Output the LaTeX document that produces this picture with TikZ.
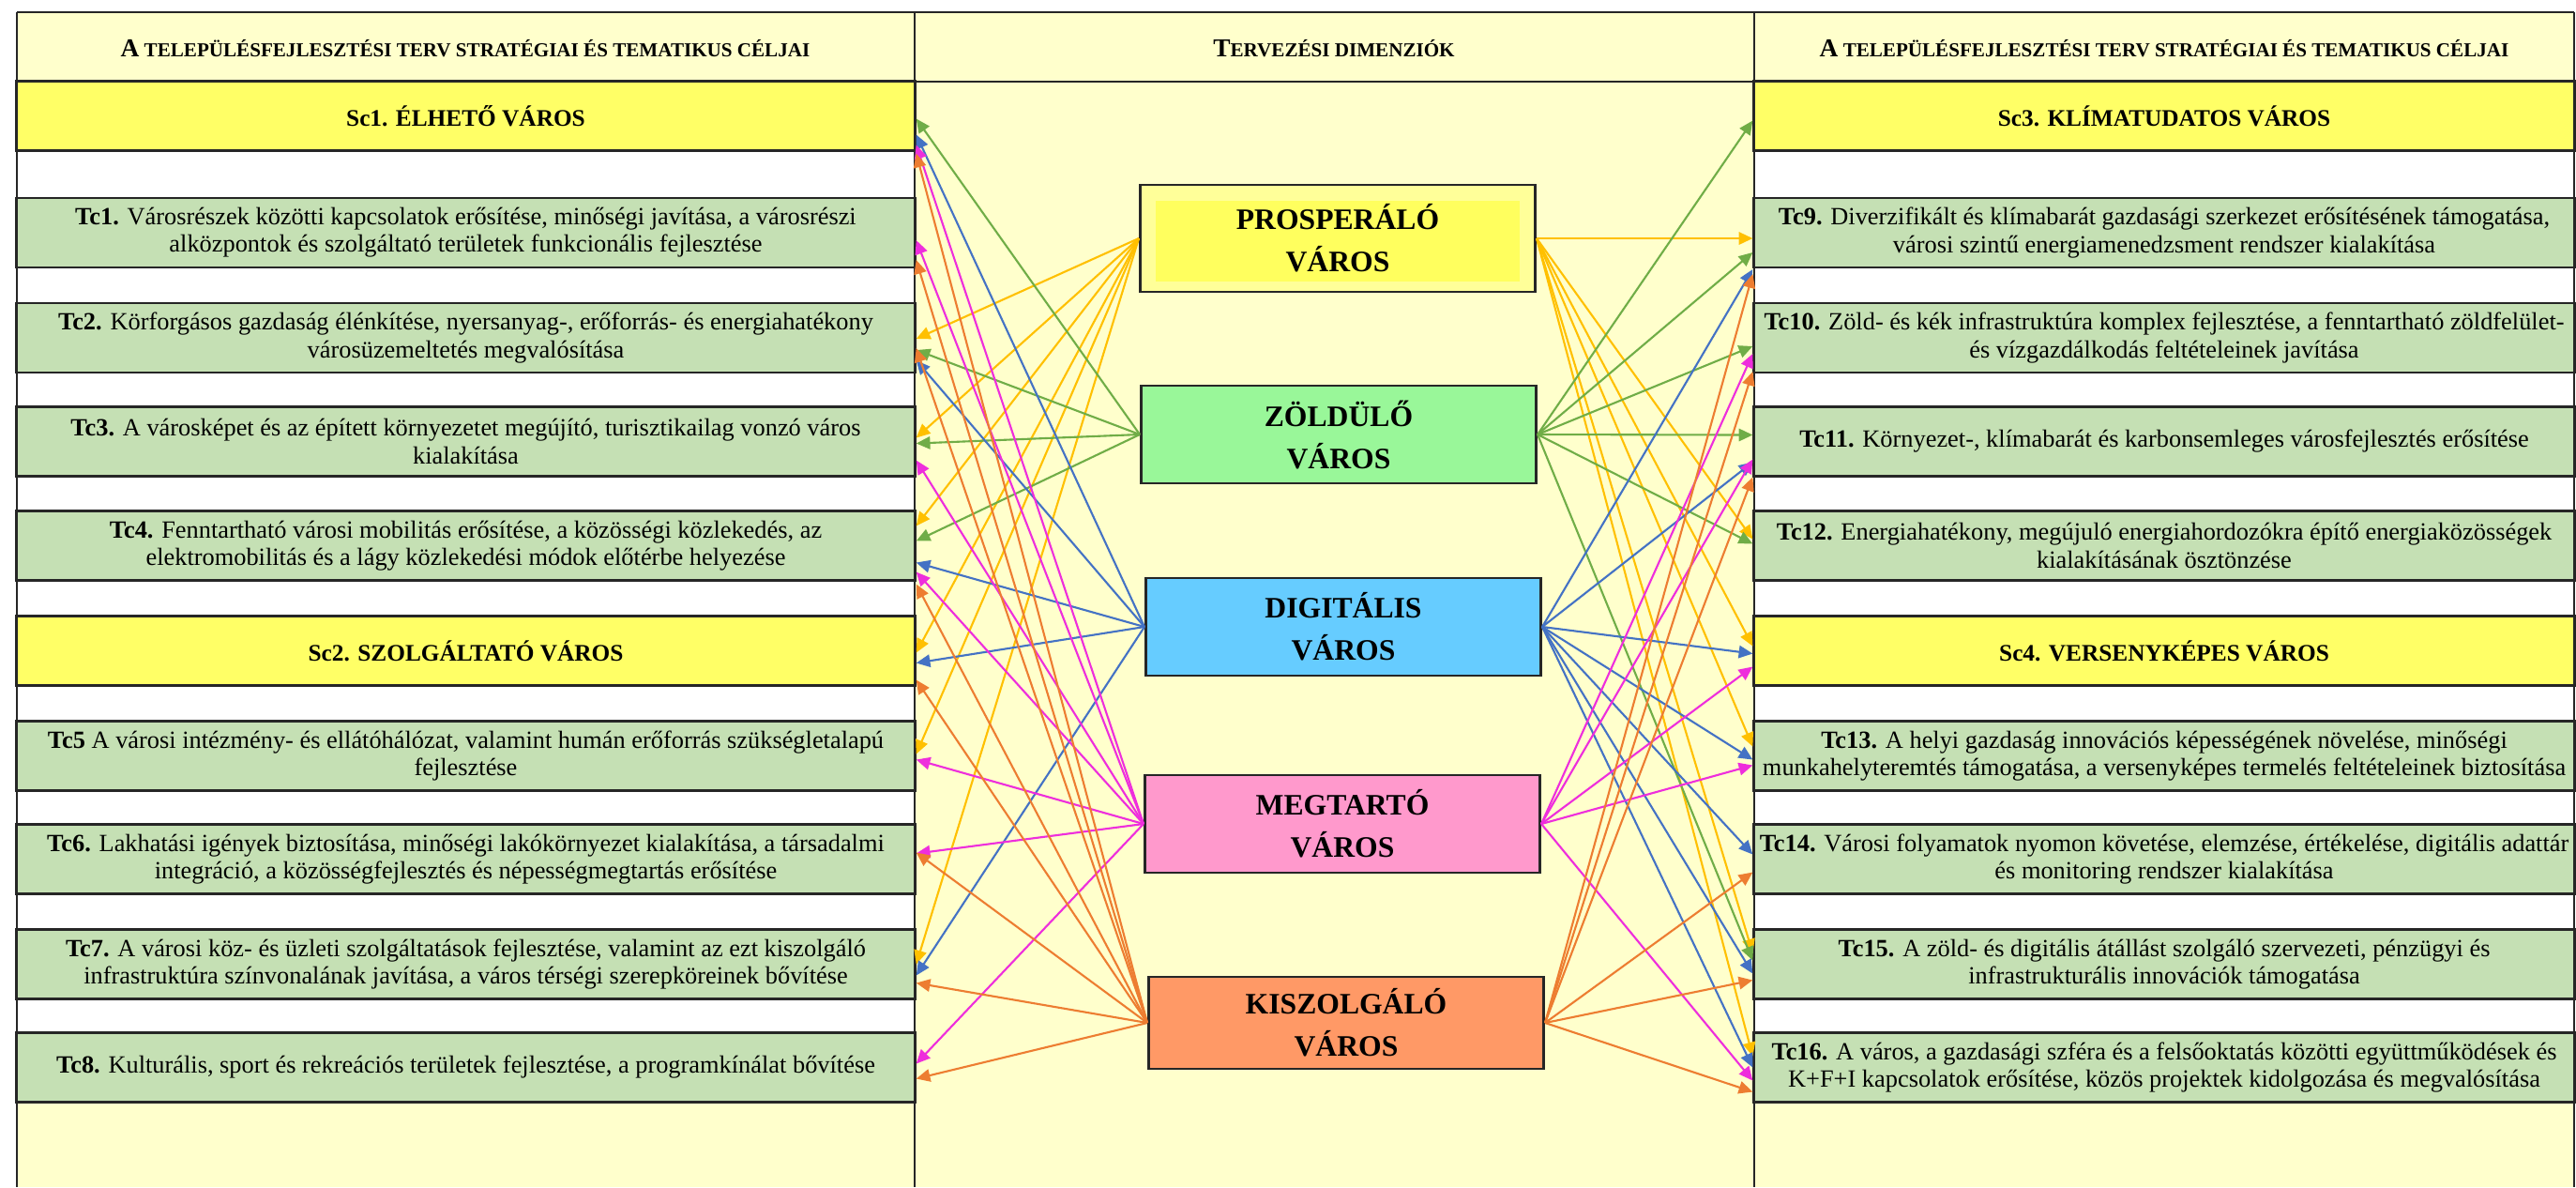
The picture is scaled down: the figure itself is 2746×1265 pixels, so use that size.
\documentclass[tikz,border=0pt]{standalone}
\usepackage{fontspec}
\setmainfont{Liberation Serif}
\usetikzlibrary{calc, arrows.meta}

\definecolor{paleyel}{HTML}{FFFFCC}
\definecolor{scyellow}{HTML}{FFFF66}
\definecolor{tcgreen}{HTML}{C5E0B4}
\definecolor{linecol}{HTML}{262626}
\definecolor{proouter}{HTML}{FFFF99}
\definecolor{proinner}{HTML}{FFFF5E}
\definecolor{zoldfill}{HTML}{99F799}
\definecolor{digfill}{HTML}{66CCFF}
\definecolor{megfill}{HTML}{FF99CC}
\definecolor{kiszfill}{HTML}{FF9966}
\definecolor{procol}{HTML}{FFC000}
\definecolor{zoldcol}{HTML}{70AD47}
\definecolor{digcol}{HTML}{4472C4}
\definecolor{megcol}{HTML}{EE2EDC}
\definecolor{kiszcol}{HTML}{ED7D31}

\newcommand\kiskap[2]{{\fontsize{7.8}{8.5}\selectfont #1}{\fontsize{6}{6.5}\selectfont #2}}

\begin{document}
\begin{tikzpicture}[x=0.01cm, y=-0.01cm,
  tabcell/.style={draw=linecol, line width=0.8pt, minimum height=0.74cm, inner sep=0pt, align=center},
  lcell/.style={tabcell, minimum width=9.57cm},
  rcell/.style={tabcell, minimum width=8.74cm},
  tcrow/.style={fill=tcgreen, font=\fontsize{7.5}{8.3}\selectfont},
  scrow/.style={fill=scyellow, font=\bfseries\fontsize{7.2}{8.5}\selectfont},
  headtxt/.style={font=\bfseries, inner sep=0pt},
  dimbox/.style={draw=linecol, line width=0.8pt, minimum width=4.21cm, minimum height=1.04cm, align=center, font=\bfseries\fontsize{9}{12.8}\selectfont},
  linkbase/.style={line width=0.6pt, -{Triangle[length=4.2pt,width=3.8pt]}},
  prolink/.style={linkbase, procol},
  zoldlink/.style={linkbase, zoldcol},
  diglink/.style={linkbase, digcol},
  meglink/.style={linkbase, megcol},
  kiszlink/.style={linkbase, kiszcol}]

\fill[white] (0,0) rectangle (2746,1265);
\useasboundingbox (0,0) rectangle (2746,1265);

% table background
\fill[paleyel] (18,13) rectangle (2744,1265);
\filldraw[fill=white, draw=linecol, line width=0.8pt] (18,160) rectangle (975,1175);
\filldraw[fill=white, draw=linecol, line width=0.8pt] (1870,160) rectangle (2744,1175);
\draw[linecol, line width=0.8pt] (18,13) -- (2744,13);
\draw[linecol, line width=0.8pt] (18,87) -- (2744,87);
\draw[linecol, line width=0.8pt] (18,13) -- (18,1265);
\draw[linecol, line width=0.8pt] (975,13) -- (975,1265);
\draw[linecol, line width=0.8pt] (1870,13) -- (1870,1265);
\draw[linecol, line width=0.8pt] (2744,13) -- (2744,1265);

% headers
\node[headtxt] (lhead) at (496,52) {\kiskap{A}{ TELEPÜLÉSFEJLESZTÉSI TERV STRATÉGIAI ÉS TEMATIKUS CÉLJAI}};
\node[headtxt] (mhead) at (1422,52) {\kiskap{T}{ERVEZÉSI DIMENZIÓK}};
\node[headtxt] (rhead) at (2307,52) {\kiskap{A}{ TELEPÜLÉSFEJLESZTÉSI TERV STRATÉGIAI ÉS TEMATIKUS CÉLJAI}};

% left column
\node[lcell, scrow] (sc1) at (496.5,123.5) {Sc1. ÉLHETŐ VÁROS};
\node[lcell, tcrow] (tc1) at (496.5,248) {\textbf{Tc1.} Városrészek közötti kapcsolatok erősítése, minőségi javítása, a városrészi\\alközpontok és szolgáltató területek funkcionális fejlesztése};
\node[lcell, tcrow] (tc2) at (496.5,360) {\textbf{Tc2.} Körforgásos gazdaság élénkítése, nyersanyag-, erőforrás- és energiahatékony\\városüzemeltetés megvalósítása};
\node[lcell, tcrow] (tc3) at (496.5,470.5) {\textbf{Tc3.} A városképet és az épített környezetet megújító, turisztikailag vonzó város\\kialakítása};
\node[lcell, tcrow] (tc4) at (496.5,581.5) {\textbf{Tc4.} Fenntartható városi mobilitás erősítése, a közösségi közlekedés, az\\elektromobilitás és a lágy közlekedési módok előtérbe helyezése};
\node[lcell, scrow] (sc2) at (496.5,693.5) {Sc2. SZOLGÁLTATÓ VÁROS};
\node[lcell, tcrow] (tc5) at (496.5,805.5) {\textbf{Tc5} A városi intézmény- és ellátóhálózat, valamint humán erőforrás szükségletalapú\\fejlesztése};
\node[lcell, tcrow] (tc6) at (496.5,915.5) {\textbf{Tc6.} Lakhatási igények biztosítása, minőségi lakókörnyezet kialakítása, a társadalmi\\integráció, a közösségfejlesztés és népességmegtartás erősítése};
\node[lcell, tcrow] (tc7) at (496.5,1027.5) {\textbf{Tc7.} A városi köz- és üzleti szolgáltatások fejlesztése, valamint az ezt kiszolgáló\\infrastruktúra színvonalának javítása, a város térségi szerepköreinek bővítése};
\node[lcell, tcrow] (tc8) at (496.5,1137.5) {\textbf{Tc8.} Kulturális, sport és rekreációs területek fejlesztése, a programkínálat bővítése};

% right column
\node[rcell, scrow] (sc3) at (2307,123.5) {Sc3. KLÍMATUDATOS VÁROS};
\node[rcell, tcrow] (tc9) at (2307,248) {\textbf{Tc9.} Diverzifikált és klímabarát gazdasági szerkezet erősítésének támogatása,\\városi szintű energiamenedzsment rendszer kialakítása};
\node[rcell, tcrow] (tc10) at (2307,360) {\textbf{Tc10.} Zöld- és kék infrastruktúra komplex fejlesztése, a fenntartható zöldfelület-\\és vízgazdálkodás feltételeinek javítása};
\node[rcell, tcrow] (tc11) at (2307,470.5) {\textbf{Tc11.} Környezet-, klímabarát és karbonsemleges városfejlesztés erősítése};
\node[rcell, tcrow] (tc12) at (2307,581.5) {\textbf{Tc12.} Energiahatékony, megújuló energiahordozókra építő energiaközösségek\\kialakításának ösztönzése};
\node[rcell, scrow] (sc4) at (2307,693.5) {Sc4. VERSENYKÉPES VÁROS};
\node[rcell, tcrow] (tc13) at (2307,805.5) {\textbf{Tc13.} A helyi gazdaság innovációs képességének növelése, minőségi\\munkahelyteremtés támogatása, a versenyképes termelés feltételeinek biztosítása};
\node[rcell, tcrow] (tc14) at (2307,915.5) {\textbf{Tc14.} Városi folyamatok nyomon követése, elemzése, értékelése, digitális adattár\\és monitoring rendszer kialakítása};
\node[rcell, tcrow] (tc15) at (2307,1027.5) {\textbf{Tc15.} A zöld- és digitális átállást szolgáló szervezeti, pénzügyi és\\infrastrukturális innovációk támogatása};
\node[rcell, tcrow] (tc16) at (2307,1137.5) {\textbf{Tc16.} A város, a gazdasági szféra és a felsőoktatás közötti együttműködések és\\K+F+I kapcsolatok erősítése, közös projektek kidolgozása és megvalósítása};

% planning dimensions
\node[dimbox, fill=proouter, minimum height=1.14cm,
  path picture={\fill[proinner] ([xshift=0.17cm,yshift=-0.17cm]path picture bounding box.north west) rectangle ([xshift=-0.17cm,yshift=0.11cm]path picture bounding box.south east);}]
  (prosp) at (1426,254) {PROSPERÁLÓ\\VÁROS};
\node[dimbox, fill=zoldfill] (zold) at (1427,463) {ZÖLDÜLŐ\\VÁROS};
\node[dimbox, fill=digfill] (digit) at (1432,668) {DIGITÁLIS\\VÁROS};
\node[dimbox, fill=megfill] (megt) at (1431,878) {MEGTARTÓ\\VÁROS};
\node[dimbox, fill=kiszfill, minimum height=0.98cm] (kisz) at (1435,1090) {KISZOLGÁLÓ\\VÁROS};

% prosperalo
\draw[prolink] (prosp.west) -- ($(tc2.east)+(0,1)$);
\draw[prolink] (prosp.west) -- ($(tc3.east)+(0,-4)$);
\draw[prolink] (prosp.west) -- ($(tc4.east)+(0,-21)$);
\draw[prolink] (prosp.west) -- ($(sc2.east)+(0,2)$);
\draw[prolink] (prosp.west) -- ($(tc5.east)+(0,-2)$);
\draw[prolink] (prosp.west) -- ($(tc7.east)+(0,0)$);
\draw[prolink] (prosp.east) -- ($(tc9.west)+(0,6)$);
\draw[prolink] (prosp.east) -- ($(tc12.west)+(0,-7)$);
\draw[prolink] (prosp.east) -- ($(sc4.west)+(0,-5)$);
\draw[prolink] (prosp.east) -- ($(tc13.west)+(0,-10)$);
\draw[prolink] (prosp.east) -- ($(tc15.west)+(0,-12)$);
\draw[prolink] (prosp.east) -- ($(tc16.west)+(0,-12)$);

% zoldulo
\draw[zoldlink] (zold.west) -- ($(sc1.east)+(0,3)$);
\draw[zoldlink] (zold.west) -- ($(tc2.east)+(0,13)$);
\draw[zoldlink] (zold.west) -- ($(tc3.east)+(0,2)$);
\draw[zoldlink] (zold.west) -- ($(tc4.east)+(0,-5)$);
\draw[zoldlink] (zold.east) -- ($(sc3.west)+(0,5)$);
\draw[zoldlink] (zold.east) -- ($(tc9.west)+(0,21)$);
\draw[zoldlink] (zold.east) -- ($(tc10.west)+(0,9)$);
\draw[zoldlink] (zold.east) -- ($(tc11.west)+(0,-7)$);
\draw[zoldlink] (zold.east) -- ($(tc12.west)+(0,-2)$);
\draw[zoldlink] (zold.east) -- ($(tc15.west)+(0,-4)$);

% digitalis
\draw[diglink] (digit.west) -- ($(sc1.east)+(0,20)$);
\draw[diglink] (digit.west) -- ($(tc2.east)+(0,24)$);
\draw[diglink] (digit.west) -- ($(tc4.east)+(0,18)$);
\draw[diglink] (digit.west) -- ($(sc2.east)+(0,13)$);
\draw[diglink] (digit.west) -- ($(tc7.east)+(0,12)$);
\draw[diglink] (digit.east) -- ($(tc9.west)+(0,39)$);
\draw[diglink] (digit.east) -- ($(tc11.west)+(0,22)$);
\draw[diglink] (digit.east) -- ($(sc4.west)+(0,3)$);
\draw[diglink] (digit.east) -- ($(tc13.west)+(0,4)$);
\draw[diglink] (digit.east) -- ($(tc14.west)+(0,-5)$);
\draw[diglink] (digit.east) -- ($(tc15.west)+(0,10)$);
\draw[diglink] (digit.east) -- ($(tc16.west)+(0,0)$);

% megtarto
\draw[meglink] (megt.west) -- ($(sc1.east)+(0,31)$);
\draw[meglink] (megt.west) -- ($(tc1.east)+(0,8)$);
\draw[meglink] (megt.west) -- ($(tc3.east)+(0,20)$);
\draw[meglink] (megt.west) -- ($(tc4.east)+(0,28)$);
\draw[meglink] (megt.west) -- ($(tc5.east)+(0,4)$);
\draw[meglink] (megt.west) -- ($(tc6.east)+(0,-6)$);
\draw[meglink] (megt.west) -- ($(tc8.east)+(0,-4)$);
\draw[meglink] (megt.east) -- ($(tc10.west)+(0,17)$);
\draw[meglink] (megt.east) -- ($(tc11.west)+(0,19)$);
\draw[meglink] (megt.east) -- ($(sc4.west)+(0,17)$);
\draw[meglink] (megt.east) -- ($(tc13.west)+(0,10)$);
\draw[meglink] (megt.east) -- ($(tc16.west)+(0,14)$);

% kiszolgalo
\draw[kiszlink] (kisz.west) -- ($(sc1.east)+(0,40)$);
\draw[kiszlink] (kisz.west) -- ($(tc1.east)+(0,29)$);
\draw[kiszlink] (kisz.west) -- ($(tc2.east)+(0,11)$);
\draw[kiszlink] (kisz.west) -- ($(tc4.east)+(0,41)$);
\draw[kiszlink] (kisz.west) -- ($(sc2.east)+(0,31)$);
\draw[kiszlink] (kisz.west) -- ($(tc6.east)+(0,-7)$);
\draw[kiszlink] (kisz.west) -- ($(tc7.east)+(0,20)$);
\draw[kiszlink] (kisz.west) -- ($(tc8.east)+(0,12)$);
\draw[kiszlink] (kisz.east) -- ($(tc9.west)+(0,44)$);
\draw[kiszlink] (kisz.east) -- ($(tc10.west)+(0,36)$);
\draw[kiszlink] (kisz.east) -- ($(tc11.west)+(0,38)$);
\draw[kiszlink] (kisz.east) -- ($(tc14.west)+(0,14)$);
\draw[kiszlink] (kisz.east) -- ($(tc15.west)+(0,17)$);
\draw[kiszlink] (kisz.east) -- ($(tc16.west)+(0,26)$);
\end{tikzpicture}
\end{document}
